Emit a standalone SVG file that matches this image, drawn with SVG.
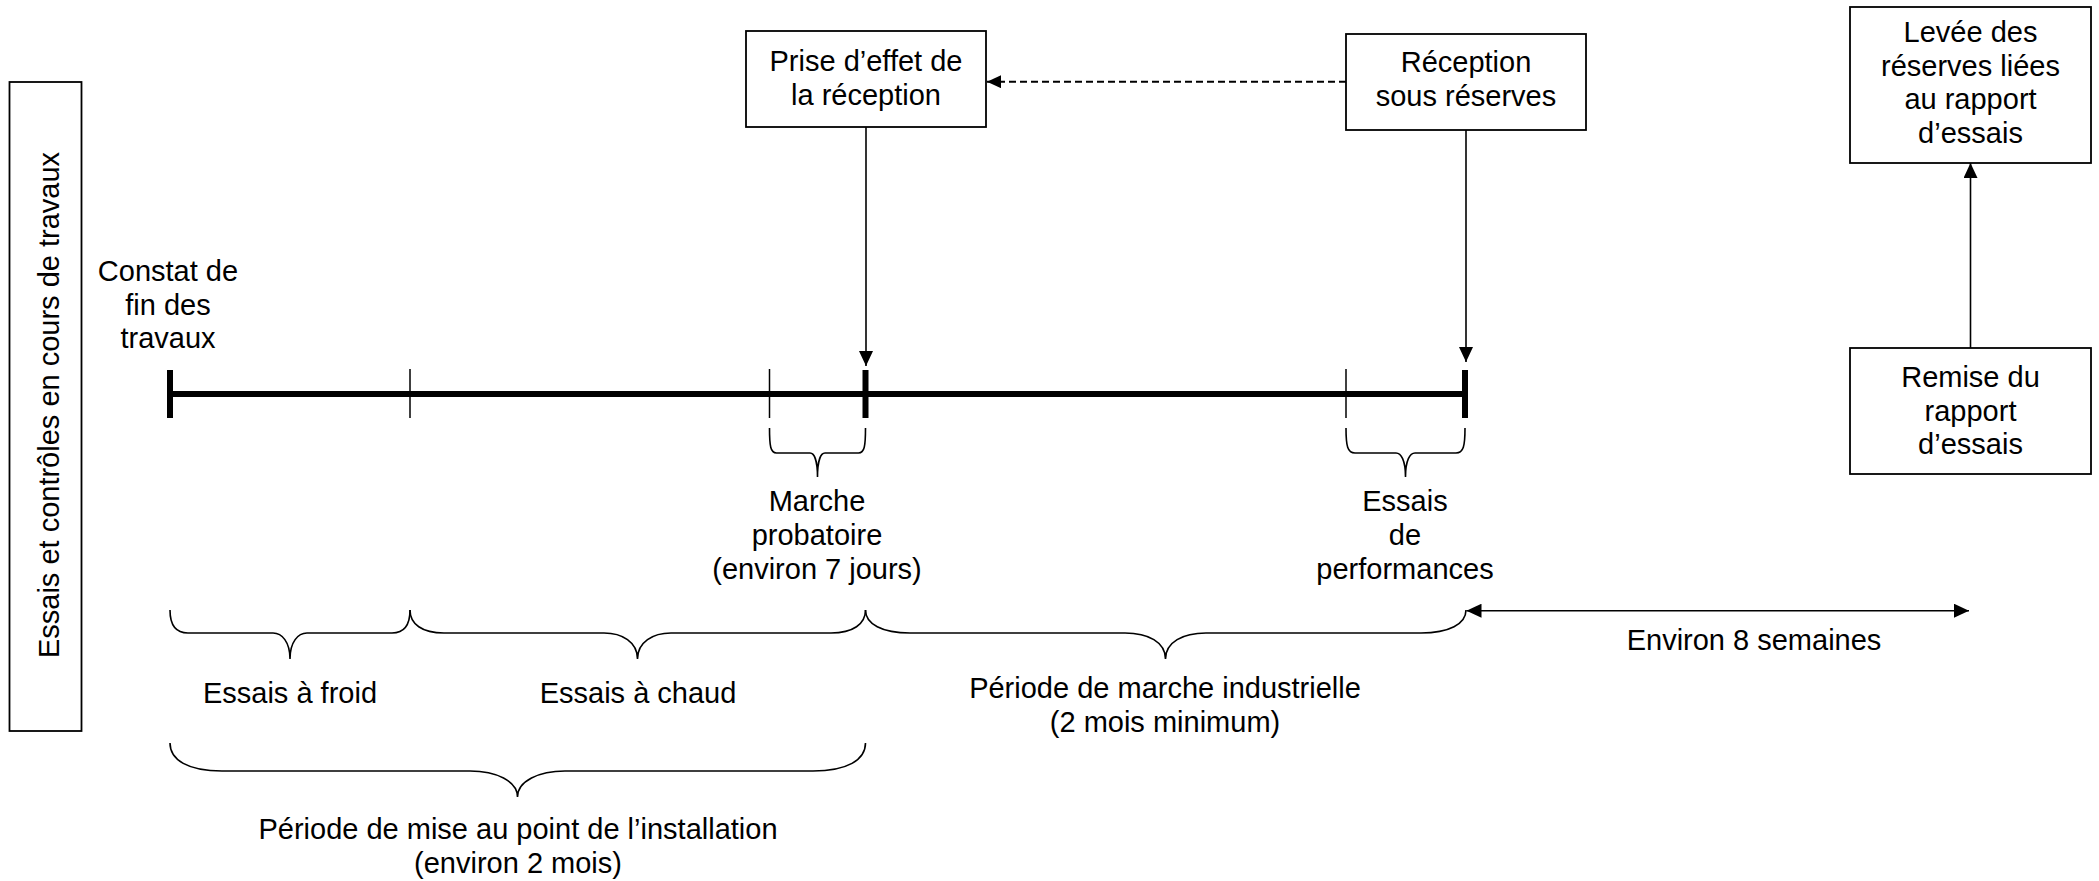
<svg xmlns="http://www.w3.org/2000/svg" width="2099" height="881" viewBox="0 0 2099 881">
<style>
text{font-family:"Liberation Sans",Arial,Helvetica,sans-serif;font-size:29px;fill:#000;text-anchor:middle}
.box{fill:#fff;stroke:#000;stroke-width:1.8}
.ln{fill:none;stroke:#000;stroke-width:1.6}
.dash{fill:none;stroke:#000;stroke-width:1.9;stroke-dasharray:7 4}
.br{fill:none;stroke:#000;stroke-width:1.6}
.thick{fill:none;stroke:#000;stroke-width:6}
.thin{fill:none;stroke:#000;stroke-width:1.5}
</style>
<defs>
<marker id="ah" markerUnits="userSpaceOnUse" viewBox="0 0 15 14" refX="15" refY="7" markerWidth="15" markerHeight="14" orient="auto-start-reverse"><path d="M0,0 L15,7 L0,14 z" fill="#000"/></marker>
<marker id="ahs" markerUnits="userSpaceOnUse" viewBox="0 0 14 13" refX="14" refY="6.5" markerWidth="14" markerHeight="13" orient="auto"><path d="M0,0 L14,6.5 L0,13 z" fill="#000"/></marker>
</defs>

<g id="side-label">
<rect class="box" x="9.5" y="82" width="72" height="649"/>
<text transform="rotate(-90 59 405)" x="59" y="405">Essais et contrôles en cours de travaux</text>
</g>

<g id="timeline">
<line class="thick" x1="170" y1="394" x2="1465" y2="394"/>
<line class="thick" x1="170" y1="370" x2="170" y2="418"/>
<line class="thick" x1="865.5" y1="370" x2="865.5" y2="418"/>
<line class="thick" x1="1465" y1="370" x2="1465" y2="418"/>
<line class="thin" x1="410" y1="369" x2="410" y2="418"/>
<line class="thin" x1="769.5" y1="369" x2="769.5" y2="418"/>
<line class="thin" x1="1346" y1="369" x2="1346" y2="418"/>
</g>

<g id="constat">
<text x="168" y="281">Constat de</text>
<text x="168" y="314.5">fin des</text>
<text x="168" y="348">travaux</text>
</g>

<g id="prise">
<rect class="box" x="746" y="31" width="240" height="96"/>
<text x="866" y="70.5">Prise d’effet de</text>
<text x="866" y="104.5">la réception</text>
</g>

<g id="reception">
<rect class="box" x="1346" y="34" width="240" height="96"/>
<text x="1466" y="72">Réception</text>
<text x="1466" y="106">sous réserves</text>
</g>

<g id="levee">
<rect class="box" x="1850" y="7" width="241" height="156"/>
<text x="1970.5" y="42">Levée des</text>
<text x="1970.5" y="75.5">réserves liées</text>
<text x="1970.5" y="109">au rapport</text>
<text x="1970.5" y="142.5">d’essais</text>
</g>

<g id="remise">
<rect class="box" x="1850" y="348" width="241" height="126"/>
<text x="1970.5" y="387">Remise du</text>
<text x="1970.5" y="420.5">rapport</text>
<text x="1970.5" y="454">d’essais</text>
</g>

<g id="braces">
<path class="br" d="M769.5,428 C769.5,446 770.5,453 776.5,453 L810,453 C814,453 817.5,460 817.5,477 C817.5,460 821,453 825,453 L858.5,453 C864.5,453 865.5,446 865.5,428"/>
<path class="br" d="M1346,428 C1346,446 1347.5,453 1355,453 L1396,453 C1401,453 1405.5,460 1405.5,477 C1405.5,460 1410,453 1415,453 L1456,453 C1463.5,453 1465,446 1465,428"/>
<path class="br" d="M170,610 C170,626 176,633 188,633 L273,633 C282,633 290,642 290,659 C290,642 298,633 307,633 L392,633 C404,633 410,626 410,610"/>
<path class="br" d="M410,610 C410,624 422,633 444,633 L604,633 C622,633 637.5,642 637.5,659 C637.5,642 653,633 671,633 L831,633 C853,633 865.5,624 865.5,610"/>
<path class="br" d="M865.5,610 C865.5,624 882,633 910,633 L1125,633 C1148,633 1165.5,642 1165.5,659 C1165.5,642 1183,633 1206,633 L1421,633 C1449,633 1466,624 1466,610"/>
<path class="br" d="M170,743 C170,760 188,771 222,771 L470,771 C496,771 517.5,781 517.5,797 C517.5,781 539,771 565,771 L813,771 C847,771 865.5,760 865.5,743"/>
</g>

<g id="labels">
<text x="817" y="511">Marche</text>
<text x="817" y="545">probatoire</text>
<text x="817" y="579">(environ 7 jours)</text>
<text x="1405" y="511">Essais</text>
<text x="1405" y="545">de</text>
<text x="1405" y="579">performances</text>
<text x="290" y="703">Essais à froid</text>
<text x="638" y="703">Essais à chaud</text>
<text x="1165" y="698">Période de marche industrielle</text>
<text x="1165" y="732">(2 mois minimum)</text>
<text x="518" y="839">Période de mise au point de l’installation</text>
<text x="518" y="873">(environ 2 mois)</text>
<text x="1754" y="650">Environ 8 semaines</text>
</g>

<g id="connectors">
<line class="ln" x1="866" y1="127" x2="866" y2="366" marker-end="url(#ah)"/>
<line class="ln" x1="1466" y1="130" x2="1466" y2="362" marker-end="url(#ah)"/>
<line class="ln" x1="1970.5" y1="348" x2="1970.5" y2="163" marker-end="url(#ah)"/>
<line class="dash" x1="1346" y1="81.7" x2="987" y2="81.7" marker-end="url(#ahs)"/>
<line class="ln" x1="1466.5" y1="610.7" x2="1969" y2="610.7" marker-start="url(#ah)" marker-end="url(#ah)"/>
</g>
</svg>
